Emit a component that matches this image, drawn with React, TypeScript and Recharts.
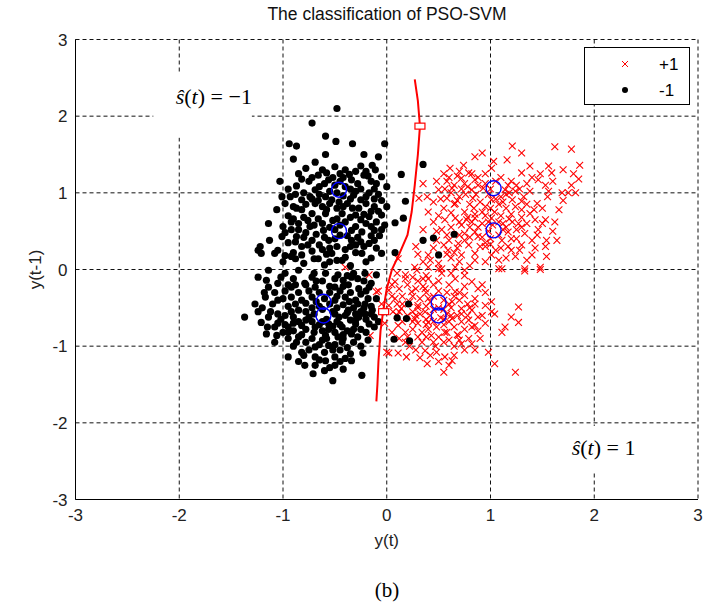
import React from 'react';
import { ScatterChart, Scatter, XAxis, YAxis, CartesianGrid, ReferenceArea, Label } from 'recharts';

// class +1 (red crosses)
const plusOne: [number, number][] = [
    [1.21, 1.61], [1.62, 1.6], [1.78, 1.57], [1.3, 1.52], [0.92, 1.52], [0.85, 1.47], [1.16, 1.43], [1.03, 1.41],
    [1.38, 1.35], [1.56, 1.35], [1.86, 1.36], [0.61, 1.32], [0.74, 1.36], [1.01, 1.32], [0.79, 1.26], [1.3, 1.26],
    [1.46, 1.17], [1.59, 1.26], [1.85, 1.18], [0.35, 1.12], [0.58, 1.15], [0.72, 1.19], [0.75, 1.12], [0.85, 1.17],
    [0.95, 1.12], [1.17, 1.1], [1.35, 1.12], [1.53, 1.1], [0.5, 1.04], [0.63, 1.06], [0.82, 1.04], [0.93, 1.06],
    [1.14, 1.04], [1.24, 1.02], [1.38, 1.02], [1.56, 1.02], [1.69, 1.0], [1.75, 1.0], [1.82, 1.0], [0.31, 0.93],
    [0.39, 0.95], [0.58, 0.93], [0.66, 0.86], [1.01, 0.91], [1.21, 0.91], [1.3, 0.89], [1.45, 0.86], [0.84, 0.8],
    [1.0, 0.8], [1.04, 0.75], [1.3, 0.78], [1.38, 0.73], [1.66, 0.78], [0.56, 0.65], [0.66, 0.67], [0.77, 0.65],
    [0.85, 0.67], [1.01, 0.67], [1.21, 0.62], [1.27, 0.6], [1.43, 0.65], [1.53, 0.65], [1.62, 0.62], [0.45, 0.62],
    [0.35, 0.52], [0.53, 0.52], [0.75, 0.47], [0.85, 0.49], [0.88, 0.43], [1.17, 0.49], [1.33, 0.47], [1.46, 0.52],
    [1.54, 0.38], [1.64, 0.38], [0.69, 0.34], [0.79, 0.32], [0.95, 0.3], [1.11, 0.38], [1.17, 0.3], [1.3, 0.32],
    [1.43, 0.28], [1.53, 0.3], [0.59, 0.25], [0.72, 0.19], [0.85, 0.21], [1.01, 0.19], [1.08, 0.12], [1.24, 0.17],
    [1.4, 0.19], [1.54, 0.17], [0.4, 0.19], [0.27, 0.03], [0.4, 0.03], [0.53, 0.01], [0.66, 0.03], [0.75, -0.01],
    [1.11, 0.01], [1.33, 0.01], [1.48, 0.03], [0.11, 0.14],
    [0.65, 1.1], [0.72, 1.05], [0.78, 1.08], [0.88, 1.1], [0.98, 0.98], [1.1, 0.95], [0.7, 0.95], [0.9, 0.88],
    [1.08, 0.85], [1.15, 0.8], [0.85, 0.72], [0.95, 0.7], [1.1, 0.7], [1.2, 0.72], [0.92, 0.6], [1.02, 0.58],
    [1.12, 0.6], [0.8, 0.55], [0.7, 0.45], [1.0, 0.4], [1.08, 0.45], [1.25, 0.4], [0.6, 0.38], [0.9, 0.3],
    [1.05, 0.25], [0.62, 0.15], [0.5, 0.08], [0.8, 0.05], [0.95, 0.1], [1.2, 0.25], [1.35, 0.6], [1.5, 0.8],
    [0.55, 0.8], [0.45, 0.88], [0.75, 0.75], [1.28, 1.05], [1.4, 1.2], [1.6, 1.15],
    [0.55, 1.25], [0.68, 1.22], [0.82, 1.25], [0.95, 1.25], [1.1, 1.2], [1.2, 1.15], [1.48, 1.25], [1.7, 1.3],
    [1.78, 1.1], [0.48, 1.15], [0.62, 1.0], [0.76, 0.98], [0.86, 0.98], [1.0, 1.05], [1.18, 1.0], [1.32, 0.95],
    [0.52, 0.92], [0.65, 0.85], [0.8, 0.85], [0.95, 0.82], [1.12, 0.88], [1.24, 0.82], [1.42, 0.78], [0.4, 0.75],
    [0.62, 0.74], [0.78, 0.68], [0.92, 0.75], [1.08, 0.62], [1.18, 0.66], [1.3, 0.68], [1.5, 0.6], [0.48, 0.5],
    [0.62, 0.55], [0.72, 0.58], [0.88, 0.55], [0.98, 0.5], [1.12, 0.52], [1.25, 0.52], [0.55, 0.32], [0.75, 0.38],
    [0.92, 0.42], [1.2, 0.4], [1.4, 0.38], [0.28, 0.3], [0.45, 0.28], [0.65, 0.22], [1.0, 0.33], [1.35, 0.12],
    [0.35, 0.1], [0.7, 0.1],
    [0.6, 1.2], [0.7, 1.28], [0.88, 1.2], [1.05, 1.15], [1.25, 1.1], [0.56, 1.05], [0.68, 0.9], [0.83, 0.93],
    [1.05, 0.92], [1.15, 0.98], [1.35, 0.85], [0.5, 0.7], [0.7, 0.62], [0.82, 0.62], [0.98, 0.62], [1.15, 0.55],
    [1.3, 0.55], [0.58, 0.45], [0.8, 0.42], [0.95, 0.35], [1.1, 0.28], [1.28, 0.25], [0.48, 0.38], [0.68, 0.28],
    [0.85, 0.12], [1.15, 0.15], [0.3, 0.2], [0.42, 0.12], [0.58, 0.2], [1.45, 0.45], [1.6, 0.5], [1.7, 0.9],
    [1.55, 0.95], [1.8, 1.25],
    [-0.08, -0.28], [-0.16, -0.86], [0.02, -0.27], [0.08, -0.16], [0.18, -0.07], [0.29, -0.01], [0.4, -0.12],
    [0.53, -0.05], [0.66, -0.12], [0.75, -0.08], [0.82, -0.16], [0.88, -0.25], [0.5, 0.01], [0.08, -0.38],
    [0.24, -0.29], [0.37, -0.25], [0.66, -0.29], [0.75, -0.34], [0.85, -0.38], [0.02, -0.47], [0.14, -0.51],
    [0.3, -0.47], [0.37, -0.55], [0.63, -0.42], [0.72, -0.51], [0.82, -0.53], [0.95, -0.47], [1.01, -0.42],
    [1.04, -0.58], [0.27, -0.64], [0.4, -0.69], [0.63, -0.64], [0.79, -0.66], [0.85, -0.73], [0.11, -0.73],
    [0.18, -0.82], [0.34, -0.82], [0.43, -0.86], [0.56, -0.82], [0.69, -0.86], [0.79, -0.9], [0.34, -0.95],
    [0.47, -1.0], [0.72, -0.97], [0.82, -0.97], [0.02, -1.09], [0.11, -1.09], [0.19, -1.14], [0.37, -1.06],
    [0.48, -1.08], [0.56, -1.14], [0.63, -1.19], [0.6, -1.25], [0.55, -1.34], [0.39, -1.23], [0.98, -1.08],
    [1.04, -1.23], [1.24, -1.34], [1.27, -0.49], [1.2, -0.62], [1.27, -0.69], [1.14, -0.75], [1.11, -0.82],
    [1.01, -0.55], [1.08, 0.01], [1.33, -0.02], [1.48, 0.0],
    [0.2, -0.2], [0.3, -0.15], [0.45, -0.2], [0.6, -0.2], [0.15, -0.35], [0.32, -0.38], [0.45, -0.35], [0.55, -0.4],
    [0.7, -0.4], [0.25, -0.55], [0.38, -0.48], [0.5, -0.5], [0.58, -0.58], [0.68, -0.6], [0.78, -0.6], [0.2, -0.6],
    [0.3, -0.7], [0.45, -0.68], [0.55, -0.72], [0.65, -0.75], [0.75, -0.78], [0.25, -0.78], [0.4, -0.78], [0.5, -0.88],
    [0.6, -0.92], [0.3, -0.88], [0.1, -0.6], [0.05, -0.2], [0.42, -0.6], [0.52, -0.63], [0.38, -0.3], [0.62, -0.5],
    [0.12, -0.9], [0.22, -1.0], [0.65, -1.0], [0.88, -0.8], [0.92, -0.6], [0.85, -0.45],
    [0.1, -0.05], [0.25, -0.1], [0.38, -0.08], [0.62, -0.05], [0.12, -0.25], [0.28, -0.25], [0.5, -0.28], [0.58, -0.3],
    [0.75, -0.22], [0.05, -0.35], [0.22, -0.42], [0.42, -0.42], [0.65, -0.35], [0.78, -0.45], [0.95, -0.3], [0.06, -0.55],
    [0.15, -0.45], [0.32, -0.58], [0.45, -0.52], [0.55, -0.52], [0.72, -0.68], [0.88, -0.62], [0.15, -0.68], [0.25, -0.68],
    [0.38, -0.65], [0.48, -0.75], [0.6, -0.68], [0.82, -0.75], [0.2, -0.88], [0.38, -0.88], [0.55, -0.95], [0.7, -0.92],
    [0.05, -0.82], [0.28, -1.05], [0.42, -1.12], [0.75, -1.05], [-0.02, -0.7], [0.9, -0.9], [0.58, -0.82], [0.35, -0.22],
    [0.18, -0.12], [0.35, -0.12], [0.5, -0.15], [0.7, -0.3], [0.25, -0.35], [0.4, -0.38], [0.6, -0.45], [0.72, -0.58],
    [0.12, -0.55], [0.28, -0.6], [0.38, -0.72], [0.62, -0.6], [0.68, -0.85], [0.45, -0.95], [0.18, -0.95], [0.32, -1.15],
    [0.5, -1.2], [0.85, -1.05], [0.1, -0.45], [0.3, -0.5], [0.55, -0.65], [0.8, -0.5], [0.95, -0.7], [0.65, -1.12],
    [0.92, -0.2],
    [-0.4, 0.03], [-0.17, -0.07], [-0.1, -0.29], [-0.05, -0.45], [0, -1.08],
];

// class -1 (black dots)
const minusOne: [number, number][] = [
    [-0.48, 2.1], [-0.72, 1.91], [-0.59, 1.74], [-0.49, 1.67], [-0.94, 1.64], [-0.87, 1.61], [-0.33, 1.64], [-0.02, 1.64],
    [-0.08, 1.47], [-0.9, 1.44], [-0.59, 1.5], [-0.22, 1.5], [-0.69, 1.4], [-0.5, 1.34], [-0.4, 1.3], [-0.14, 1.36],
    [-0.11, 1.3], [-0.05, 1.21], [-1.03, 1.15], [-0.87, 1.09], [-0.66, 1.23], [-0.56, 1.17], [-0.34, 1.17], [-0.22, 1.23],
    [0, 1.08], [-0.69, 1.04], [-0.59, 0.95], [-0.3, 1.02], [-0.17, 1.0], [-1.01, 0.95], [-0.93, 0.95], [-0.82, 0.91],
    [-0.69, 0.86], [-0.53, 0.91], [-0.38, 0.86], [-0.25, 0.91], [-0.12, 0.82], [0, 0.82], [-1.06, 0.78], [-0.87, 0.8],
    [-0.72, 0.73], [-0.59, 0.73], [-0.43, 0.73], [-0.3, 0.71], [-0.17, 0.69], [-0.05, 0.71], [-1.14, 0.6], [-1.0, 0.56],
    [-0.85, 0.6], [-0.74, 0.56], [-0.61, 0.51], [-0.34, 0.51], [-0.24, 0.49], [-0.12, 0.51], [-0.02, 0.58], [-0.87, 0.43],
    [-0.72, 0.38], [-0.56, 0.38], [-0.34, 0.38], [-0.17, 0.34], [-1.01, 0.43], [-1.22, 0.3], [-1.24, 0.25], [-1.13, 0.38],
    [-0.62, 1.3], [-0.45, 1.25], [-0.3, 1.28], [-0.75, 1.15], [-0.5, 1.1], [-0.4, 1.08], [-0.28, 1.12], [-0.15, 1.15],
    [-0.65, 0.98], [-0.55, 1.02], [-0.42, 0.96], [-0.35, 0.92], [-0.2, 0.95], [-0.08, 0.98], [-0.78, 0.85], [-0.62, 0.82],
    [-0.48, 0.8], [-0.27, 0.8], [-0.15, 0.76], [-0.95, 0.7], [-0.8, 0.68], [-0.66, 0.66], [-0.52, 0.64], [-0.4, 0.62],
    [-0.25, 0.65], [-0.1, 0.62], [-0.92, 0.52], [-0.78, 0.48], [-0.55, 0.55], [-0.45, 0.45], [-0.28, 0.42], [-0.07, 0.44],
    [-0.95, 0.35], [-0.82, 0.3], [-0.65, 0.32], [-0.48, 0.3], [-0.4, 0.26], [-0.22, 0.3], [-0.1, 0.28], [-1.05, 0.25],
    [-0.9, 0.22], [-0.72, 0.24], [-0.58, 0.2], [-0.3, 0.22], [-0.15, 0.15], [-0.35, 0.05], [-0.6, 0.06], [-0.8, 0.08],
    [-1.0, 0.1], [-0.48, 0.12],
    [-0.85, 1.25], [-0.78, 1.32], [-0.72, 1.2], [-0.6, 1.12], [-0.52, 1.2], [-0.45, 1.15], [-0.36, 1.24], [-0.25, 1.35],
    [-0.18, 1.22], [-0.1, 1.12], [-0.95, 1.05], [-0.8, 1.0], [-0.74, 0.95], [-0.48, 1.0], [-0.32, 0.97], [-0.25, 1.05],
    [-0.12, 0.92], [-0.05, 0.9], [-0.98, 0.86], [-0.9, 0.82], [-0.82, 0.78], [-0.66, 0.9], [-0.55, 0.86], [-0.46, 0.88],
    [-0.33, 0.8], [-0.2, 0.86], [-0.08, 0.76], [-0.92, 0.62], [-0.76, 0.64], [-0.62, 0.6], [-0.48, 0.66], [-0.35, 0.68],
    [-0.2, 0.6], [-0.05, 0.52], [-0.98, 0.48], [-0.85, 0.52], [-0.68, 0.46], [-0.6, 0.42], [-0.5, 0.52], [-0.38, 0.44],
    [-0.15, 0.44], [-0.88, 0.36], [-0.76, 0.32], [-0.55, 0.28], [-0.3, 0.32], [-0.12, 0.38], [-0.7, 0.14], [-0.4, 0.16],
    [-0.2, 0.1], [-0.88, 0.14],
    [-0.82, 1.18], [-0.58, 1.26], [-0.42, 1.2], [-0.2, 1.28], [-0.65, 1.08], [-0.35, 1.05], [-0.12, 1.05], [-0.88, 0.98],
    [-0.72, 0.92], [-0.42, 0.82], [-0.58, 0.78], [-0.22, 0.72], [-0.9, 0.66], [-0.7, 0.58], [-0.45, 0.58], [-0.3, 0.56],
    [-0.15, 0.56], [-0.8, 0.42], [-0.5, 0.4], [-0.25, 0.36], [-0.62, 0.26], [-0.35, 0.3], [-0.98, 0.18], [-0.55, 0.1],
    [-1.21, 0.21], [-1.08, 0.21], [-0.92, 0.17], [-0.82, 0.19], [-0.66, 0.14], [-0.53, 0.21], [-0.43, 0.12], [-0.24, 0.21],
    [-0.05, 0.21], [-1.24, -0.1], [-1.14, -0.01], [-0.98, -0.05], [-0.85, -0.01], [-0.72, -0.1], [-0.59, -0.05], [-0.47, -0.07],
    [-0.34, -0.1], [-0.21, -0.05], [-0.1, -0.07], [-1.16, -0.14], [-1.14, -0.23], [-1.05, -0.18], [-0.92, -0.23], [-0.79, -0.18],
    [-0.69, -0.23], [-0.5, -0.23], [-0.37, -0.2], [-0.27, -0.25], [-0.17, -0.23], [-1.27, -0.45], [-1.17, -0.36], [-1.05, -0.4],
    [-0.92, -0.36], [-0.82, -0.4], [-0.72, -0.36], [-0.5, -0.4], [-0.4, -0.36], [-0.3, -0.4], [-0.21, -0.45], [-0.14, -0.53],
    [-1.37, -0.62], [-1.24, -0.55], [-1.14, -0.62], [-0.98, -0.6], [-0.85, -0.53], [-0.75, -0.62], [-0.5, -0.58], [-0.37, -0.53],
    [-0.27, -0.62], [-0.21, -0.58], [-1.21, -0.69], [-1.08, -0.75], [-0.95, -0.75], [-0.82, -0.73], [-0.69, -0.75], [-0.56, -0.71],
    [-0.43, -0.75], [-0.3, -0.71], [-0.17, -0.71], [-1.16, -0.84], [-1.06, -0.86], [-0.85, -0.88], [-0.72, -0.9], [-0.59, -0.86],
    [-0.47, -0.88], [-0.34, -0.84], [-0.87, -0.95], [-0.69, -1.01], [-0.56, -0.99], [-0.43, -0.95], [-0.95, -1.14], [-0.82, -1.08],
    [-0.69, -1.14], [-0.59, -1.19], [-0.5, -1.14], [-0.4, -1.16], [-0.34, -1.19], [-0.79, -1.25], [-0.69, -1.25], [-0.71, -1.36],
    [-0.9, -0.12], [-0.78, -0.2], [-0.62, -0.15], [-0.55, -0.22], [-0.42, -0.14], [-0.28, -0.12], [-0.15, -0.18], [-0.98, -0.28],
    [-0.85, -0.3], [-0.65, -0.3], [-0.45, -0.28], [-0.35, -0.3], [-0.25, -0.32], [-1.1, -0.45], [-0.95, -0.48], [-0.78, -0.44],
    [-0.65, -0.48], [-0.55, -0.45], [-0.42, -0.46], [-0.32, -0.5], [-0.18, -0.38], [-1.05, -0.58], [-0.9, -0.62], [-0.7, -0.58],
    [-0.58, -0.65], [-0.46, -0.62], [-0.35, -0.66], [-0.25, -0.55], [-0.12, -0.62], [-0.98, -0.72], [-0.78, -0.66], [-0.65, -0.72],
    [-0.52, -0.74], [-0.38, -0.8], [-0.25, -0.78], [-0.12, -0.75], [-1.0, -0.82], [-0.9, -0.8], [-0.62, -0.8], [-0.5, -0.82],
    [-0.42, -0.9], [-0.28, -0.88], [-0.78, -0.95], [-0.65, -0.98], [-0.5, -0.98], [-0.38, -1.02], [-0.6, -1.08], [-0.45, -1.05],
    [-0.75, -1.05], [-0.55, -1.28],
    [-1.18, -0.3], [-1.02, -0.1], [-0.95, -0.2], [-0.7, -0.05], [-0.5, -0.12], [-0.32, -0.05], [-0.22, -0.15], [-1.12, -0.55],
    [-1.0, -0.38], [-0.88, -0.45], [-0.75, -0.28], [-0.6, -0.38], [-0.48, -0.35], [-0.36, -0.42], [-0.28, -0.45], [-0.15, -0.48],
    [-1.15, -0.75], [-1.02, -0.65], [-0.85, -0.68], [-0.72, -0.68], [-0.62, -0.52], [-0.52, -0.55], [-0.4, -0.6], [-0.3, -0.58],
    [-0.2, -0.65], [-0.08, -0.68], [-1.08, -0.95], [-0.95, -0.9], [-0.82, -0.85], [-0.7, -0.82], [-0.56, -0.78], [-0.45, -0.72],
    [-0.32, -0.78], [-0.2, -0.82], [-0.9, -1.0], [-0.62, -0.92], [-0.52, -1.05], [-0.32, -0.95], [-0.25, -1.0], [-0.85, -1.2],
    [-0.65, -1.18], [-0.45, -1.2], [-0.6, -1.32], [-0.42, -1.3], [-0.52, -1.45], [-0.78, -0.55], [-0.68, -0.42], [-0.55, -0.3],
    [-0.42, -0.22], [-0.1, -0.38],
    [-1.08, -0.3], [-0.88, -0.2], [-0.68, -0.15], [-0.38, -0.08], [-0.2, -0.28], [-1.2, -0.5], [-0.92, -0.55], [-0.72, -0.5],
    [-0.48, -0.5], [-0.38, -0.56], [-0.22, -0.5], [-1.05, -0.7], [-0.9, -0.7], [-0.62, -0.68], [-0.48, -0.68], [-0.3, -0.66],
    [-0.15, -0.58], [-0.95, -0.82], [-0.78, -0.78], [-0.58, -0.9], [-0.42, -0.85], [-0.18, -0.92], [-0.8, -1.12], [-0.5, -1.25],
    [-0.35, -1.1],
    [0.35, 1.37], [0.14, 1.24], [0.18, 0.89], [0.16, 0.67], [0.08, 0.61], [0.35, 0.38], [0.45, 0.41], [0.65, 0.46],
    [0.5, 0.19], [0.08, 0.22], [0.21, -0.45], [0.1, -0.63], [0.19, -0.64], [0.07, -0.91], [0.22, -0.93], [-0.04, -0.55],
    [-0.24, -1.38], [-0.23, -1.09],
];

const supportVectors: [number, number][] = [
    [-0.46, 1.04], [-0.46, 0.5], [-0.61, -0.42], [-0.61, -0.6],
    [1.03, 1.06], [1.03, 0.51], [0.5, -0.43], [0.5, -0.6],
];

// decision boundary
const boundary: [number, number][] = [
    [0.27, 2.48], [0.3, 2.2], [0.32, 1.87], [0.3, 1.5], [0.27, 1.1], [0.24, 0.75], [0.2, 0.45], [0.12, 0.2],
    [0.05, 0.0], [0.0, -0.25], [-0.03, -0.5], [-0.06, -0.8], [-0.08, -1.2], [-0.09, -1.5], [-0.1, -1.72],
];
const boundaryMarks: [number, number][] = [[0.32, 1.87], [-0.03, -0.55]];

const ticks = [-3, -2, -1, 0, 1, 2, 3];

const toXY = (arr: [number, number][]) => arr.map(([x, y]) => ({ x, y }));

const SANS = '"Liberation Sans", Arial, sans-serif';
const SERIF = '"Liberation Serif", "Times New Roman", serif';

const Cross = (props: any) => {
    const { cx, cy } = props;
    const s = 3.4;
    return (
        <g stroke="#ff0000" strokeWidth={1.1}>
            <line x1={cx - s} y1={cy - s} x2={cx + s} y2={cy + s} />
            <line x1={cx - s} y1={cy + s} x2={cx + s} y2={cy - s} />
        </g>
    );
};

const Dot = (props: any) => <circle cx={props.cx} cy={props.cy} r={3.6} fill="#000" />;
const Ring = (props: any) => <circle cx={props.cx} cy={props.cy} r={7.5} fill="none" stroke="#0000ff" strokeWidth={1.4} />;
const Box = (props: any) => <rect x={props.cx - 5} y={props.cy - 3} width={10} height={6} fill="#fff" stroke="#ff0000" strokeWidth={1.2} />;

const mathLabel = (sign: string, anchor: 'start' | 'end', dyTop: number) => (props: any) => {
    const { x, y, width, height } = props;
    const tx = anchor === 'end' ? x + width : x + 22;
    return (
        <g>
            <rect x={x} y={y} width={width} height={height} fill="#fff" />
            <text x={tx} y={y + dyTop} dy="0.35em" textAnchor={anchor} fontFamily={SERIF} fontSize={22} fill="#000">
                <tspan fontStyle="italic">ŝ</tspan>(<tspan fontStyle="italic">t</tspan>) = {sign}1
            </text>
        </g>
    );
};

const App = () => {
    return (
        <div style={{ position: 'absolute', left: 0, top: 0, width: 712, height: 615, background: '#fff' }}>
            <div style={{ position: 'absolute', top: 4, left: 0, width: 774, textAlign: 'center', fontFamily: SANS, fontSize: 17.5, color: '#111' }}>
                The classification of PSO-SVM
            </div>
            <ScatterChart width={712} height={615} margin={{ top: 39.5, right: 14, bottom: 75.5, left: 0.5 }}>
                <CartesianGrid stroke="#111" strokeDasharray="4 3" horizontalValues={ticks} verticalValues={ticks} />
                <XAxis
                    type="number"
                    dataKey="x"
                    domain={[-3, 3]}
                    ticks={ticks}
                    height={40}
                    tickLine={false}
                    tickSize={0}
                    tickMargin={9}
                    axisLine={{ stroke: '#000' }}
                    tick={{ fill: '#222', fontSize: 17, fontFamily: SANS }}
                    allowDataOverflow
                >
                    <Label
                        content={(p: any) => (
                            <text x={p.viewBox.x + p.viewBox.width / 2} y={p.viewBox.y + 46} textAnchor="middle" fontFamily={SANS} fontSize={17} fill="#222">
                                y(t)
                            </text>
                        )}
                    />
                </XAxis>
                <YAxis
                    type="number"
                    dataKey="y"
                    domain={[-3, 3]}
                    ticks={ticks}
                    width={75}
                    tickLine={false}
                    axisLine={{ stroke: '#000' }}
                    tick={{ fill: '#222', fontSize: 17, fontFamily: SANS }}
                    allowDataOverflow
                >
                    <Label
                        content={(p: any) => {
                            const cx = 41;
                            const cy = p.viewBox.y + p.viewBox.height / 2;
                            return (
                                <text x={cx} y={cy} transform={`rotate(-90 ${cx} ${cy})`} textAnchor="middle" fontFamily={SANS} fontSize={17} fill="#222">
                                    y(t-1)
                                </text>
                            );
                        }}
                    />
                </YAxis>
                <ReferenceArea x1={-2.25} x2={-1.3} y1={1.72} y2={2.57} shape={mathLabel('−', 'end', 24)} />
                <ReferenceArea x1={1.57} x2={2.83} y1={-2.65} y2={-2.04} shape={mathLabel('', 'start', 21)} />
                <Scatter name="+1" data={toXY(plusOne)} shape={Cross} isAnimationActive={false} />
                <Scatter name="-1" data={toXY(minusOne)} shape={Dot} isAnimationActive={false} />
                <Scatter data={toXY(supportVectors)} shape={Ring} isAnimationActive={false} />
                <Scatter data={toXY(boundary)} line={{ stroke: '#ff0000', strokeWidth: 2 }} shape={() => <g />} isAnimationActive={false} />
                <Scatter data={toXY(boundaryMarks)} shape={Box} isAnimationActive={false} />
            </ScatterChart>
            <svg width={106} height={58} style={{ position: 'absolute', left: 584, top: 47 }}>
                <rect x={0.5} y={0.5} width={105} height={57} fill="#fff" stroke="#000" />
                <g stroke="#ff0000" strokeWidth={1}>
                    <line x1={38} y1={14} x2={44} y2={20} />
                    <line x1={38} y1={20} x2={44} y2={14} />
                </g>
                <text x={75} y={17} dy="0.35em" fontFamily={SANS} fontSize={17} fill="#000">+1</text>
                <circle cx={41} cy={43} r={3} fill="#000" />
                <text x={75} y={43} dy="0.35em" fontFamily={SANS} fontSize={17} fill="#000">-1</text>
            </svg>
            <div style={{ position: 'absolute', top: 578, left: 0, width: 774, textAlign: 'center', fontFamily: SERIF, fontSize: 21, color: '#000' }}>
                (b)
            </div>
        </div>
    );
};

export default App;
